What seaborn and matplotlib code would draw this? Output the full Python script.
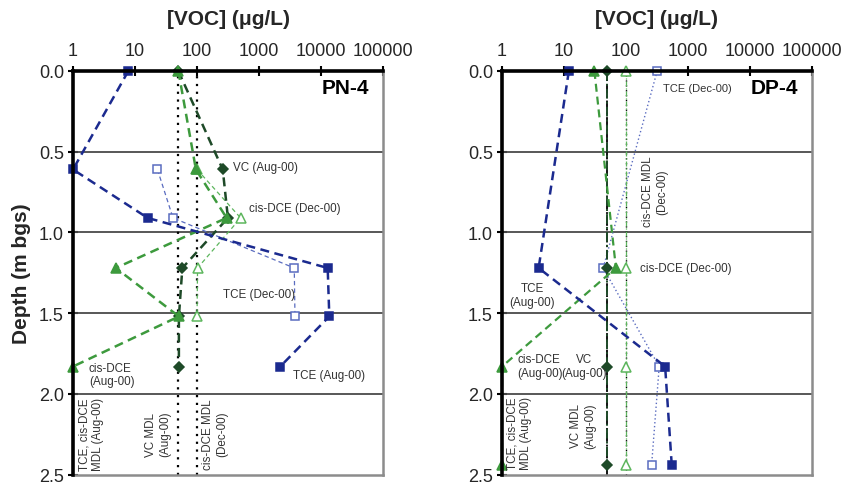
import matplotlib
matplotlib.use("Agg")
import matplotlib.pyplot as plt
import seaborn as sns

sns.set_theme(style="white")
plt.rcParams["font.family"] = ["Liberation Sans", "DejaVu Sans"]

# ---- PN-4 profile (depths in m bgs, concentrations in ug/L) ----
pn4_depth = [0.0, 0.61, 0.91, 1.22, 1.52, 1.83]
pn4_tce_aug = [7.8, 1.0, 16, 12800, 13600, 2200]
pn4_dce_aug = [50, 96, 300, 4.9, 51, 1.0]
pn4_vc_aug = [50, 260, 315, 58, 51, 51]
pn4_dec_depth = [0.61, 0.91, 1.22, 1.52]
pn4_tce_dec = [23, 41, 3700, 3800]
pn4_dce_dec = [100, 505, 102, 100]

# ---- DP-4 profile ----
dp4_depth = [0.0, 1.22, 1.83, 2.44]
dp4_tce_aug = [12, 3.9, 430, 550]
dp4_tce_dec = [320, 43, 345, 260]
dp4_dce_aug = [31, 69, 1.0, 1.0]
dp4_vc_aug = [50, 50, 50, 50]
dp4_dce_dec = [100, 100, 100, 100]

# method detection limits
mdl_vc_aug = 50
mdl_dce_dec = 100

x_ticks = [1, 10, 100, 1000, 10000, 100000]
x_ticklabels = ["1", "10", "100", "1000", "10000", "100000"]
y_ticks = [0.0, 0.5, 1.0, 1.5, 2.0, 2.5]

NAVY = "#1b2a8f"
LBLUE = "#5a6cc0"
GREEN = "#3d9a3d"
DKGREEN = "#1e4a28"
LGREEN = "#5db65d"
TXT = "#333333"


def profile(ax, conc, depth, color, ls, lw, marker, ms, filled=True):
    sns.lineplot(x=conc, y=depth, ax=ax, sort=False, estimator=None,
                 color=color, linestyle=ls, linewidth=lw, marker=marker,
                 markersize=ms,
                 markerfacecolor=color if filled else "white",
                 markeredgecolor=color, markeredgewidth=1.1,
                 clip_on=False, legend=False, zorder=3)


def style_axes(ax, name):
    ax.set_xscale("log")
    ax.set_xlim(1, 100000)
    ax.set_ylim(2.5, 0.0)
    ax.xaxis.tick_top()
    ax.set_xticks(x_ticks)
    ax.set_xticklabels(x_ticklabels)
    ax.minorticks_off()
    ax.set_yticks(y_ticks)
    ax.set_yticklabels([f"{v:.1f}" for v in y_ticks])
    ax.tick_params(axis="x", which="major", direction="inout", length=7,
                   width=1.5, color="black", labelsize=13, pad=5,
                   top=True, bottom=False, labeltop=True, labelbottom=False)
    ax.tick_params(axis="y", which="major", direction="inout", length=7,
                   width=1.5, color="black", labelsize=13, pad=3, left=True)
    for v in [0.5, 1.0, 1.5, 2.0]:
        ax.axhline(v, color="#4a4a4a", lw=1.3, zorder=1)
    for side in ["left", "top"]:
        ax.spines[side].set_color("black")
        ax.spines[side].set_linewidth(2.6)
        ax.spines[side].set_zorder(4)
    for side in ["right", "bottom"]:
        ax.spines[side].set_color("#8c8c8c")
        ax.spines[side].set_linewidth(1.8)
    ax.xaxis.set_label_position("top")
    ax.set_xlabel("[VOC] (\u03bcg/L)", fontsize=15, fontweight="bold", labelpad=13)
    ax.text(0.955, 0.96, name, transform=ax.transAxes, ha="right", va="center",
            fontsize=15, fontweight="bold", color="black")


fig = plt.figure(figsize=(8.45, 4.89), dpi=100)
ax1 = fig.add_axes([0.0864, 0.0272, 0.3669, 0.8256])
ax2 = fig.add_axes([0.5941, 0.0272, 0.3665, 0.8256])

DASH = (0, (3.6, 2.2))
THIN_DASH = (0, (3.5, 2.5))
DOT = (0, (1, 2.5))
DASHDOT = (0, (5, 1.6, 1, 1.6))

# ---------------- PN-4 ----------------
style_axes(ax1, "PN-4")
for xv in [mdl_vc_aug, mdl_dce_dec]:
    ax1.axvline(xv, color="black", lw=1.6, linestyle=DOT, zorder=2)
profile(ax1, pn4_tce_dec, pn4_dec_depth, LBLUE, THIN_DASH, 0.9, "s", 6, filled=False)
profile(ax1, pn4_dce_dec, pn4_dec_depth, LGREEN, THIN_DASH, 0.9, "^", 7, filled=False)
profile(ax1, pn4_vc_aug, pn4_depth, DKGREEN, DASH, 1.8, "D", 5)
profile(ax1, pn4_dce_aug, pn4_depth, GREEN, DASH, 1.8, "^", 7)
profile(ax1, pn4_tce_aug, pn4_depth, NAVY, DASH, 1.8, "s", 6)
ax1.set_ylabel("Depth (m bgs)", fontsize=15, fontweight="bold", labelpad=6)

fs = 8.4
ax1.text(380, 0.595, "VC (Aug-00)", fontsize=fs, color=TXT, va="center", ha="left")
ax1.text(690, 0.85, "cis-DCE (Dec-00)", fontsize=fs, color=TXT, va="center", ha="left")
ax1.text(260, 1.38, "TCE (Dec-00)", fontsize=fs, color=TXT, va="center", ha="left")
ax1.text(3500, 1.88, "TCE (Aug-00)", fontsize=fs, color=TXT, va="center", ha="left")
ax1.text(1.8, 1.88, "cis-DCE\n(Aug-00)", fontsize=fs, color=TXT, va="center", ha="left")
ax1.text(1.95, 2.245, "TCE, cis-DCE\nMDL (Aug-00)", fontsize=fs, color=TXT,
         rotation=90, ha="center", va="center", multialignment="center")
ax1.text(23.5, 2.245, "VC MDL\n(Aug-00)", fontsize=fs, color=TXT,
         rotation=90, ha="center", va="center", multialignment="center")
ax1.text(195, 2.245, "cis-DCE MDL\n(Dec-00)", fontsize=fs, color=TXT,
         rotation=90, ha="center", va="center", multialignment="center")

# ---------------- DP-4 ----------------
style_axes(ax2, "DP-4")
ax2.set_ylabel("")
ax2.axvline(mdl_vc_aug, color="black", lw=1.3, linestyle=DASHDOT, zorder=2)
ax2.axvline(mdl_dce_dec, color="black", lw=1.0, linestyle=DOT, zorder=2)
profile(ax2, dp4_tce_dec, dp4_depth, LBLUE, (0, (1, 1.8)), 1.0, "s", 6, filled=False)
profile(ax2, dp4_dce_dec, dp4_depth, LGREEN, (0, (4, 1.5, 1, 1.5)), 0.9, "^", 7, filled=False)
profile(ax2, dp4_vc_aug, dp4_depth, DKGREEN, DASHDOT, 1.4, "D", 5)
profile(ax2, dp4_dce_aug, dp4_depth, GREEN, DASH, 1.6, "^", 7)
profile(ax2, dp4_tce_aug, dp4_depth, NAVY, DASH, 1.8, "s", 6)

ax2.text(400, 0.105, "TCE (Dec-00)", fontsize=fs - 0.4, color=TXT, va="center", ha="left")
ax2.text(296, 0.744, "cis-DCE MDL\n(Dec-00)", fontsize=fs, color=TXT,
         rotation=90, ha="center", va="center", multialignment="center")
ax2.text(170, 1.22, "cis-DCE (Dec-00)", fontsize=fs, color=TXT, va="center", ha="left")
ax2.text(3.05, 1.385, "TCE\n(Aug-00)", fontsize=fs, color=TXT, va="center",
         ha="center", multialignment="center")
ax2.text(1.78, 1.826, "cis-DCE\n(Aug-00)", fontsize=fs, color=TXT, va="center", ha="left")
ax2.text(21, 1.826, "VC\n(Aug-00)", fontsize=fs, color=TXT, va="center",
         ha="center", multialignment="center")
ax2.text(1.88, 2.24, "TCE, cis-DCE\nMDL (Aug-00)", fontsize=fs, color=TXT,
         rotation=90, ha="center", va="center", multialignment="center")
ax2.text(20.3, 2.195, "VC MDL\n(Aug-00)", fontsize=fs, color=TXT,
         rotation=90, ha="center", va="center", multialignment="center")

fig.savefig("out.png", dpi=100)
